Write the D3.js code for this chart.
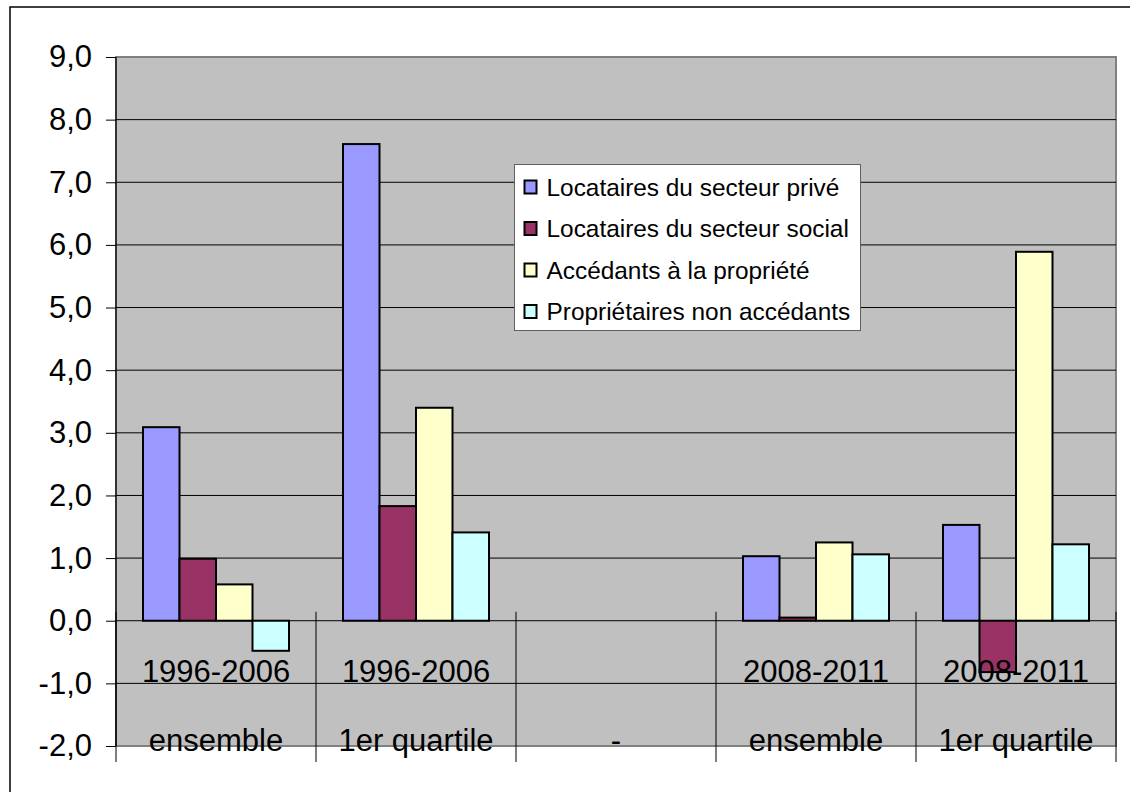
<!DOCTYPE html>
<html>
<head>
<meta charset="utf-8">
<script src="https://cdn.jsdelivr.net/npm/d3@7"></script>
<style>
  body { margin: 0; background: #fff; }
  svg { display: block; font-family: "Liberation Sans", Arial, sans-serif; }
</style>
</head>
<body>
<div id="chart"></div>
<script>
// Data
const categoriesTop = ["1996-2006", "1996-2006", "", "2008-2011", "2008-2011"];
const categoriesBottom = ["ensemble", "1er quartile", "-", "ensemble", "1er quartile"];
const seriesNames = ["Locataires du secteur privé", "Locataires du secteur social", "Accédants à la propriété", "Propriétaires non accédants"];
const seriesColors = ["#9999FF", "#993366", "#FFFFCC", "#CCFFFF"];
const privateRent = [3.09, 7.61, null, 1.03, 1.53];
const socialRent = [0.99, 1.83, null, 0.05, -0.82];
const buyers = [0.58, 3.40, null, 1.25, 5.89];
const owners = [-0.48, 1.41, null, 1.06, 1.22];
const yTicks = [-2, -1, 0, 1, 2, 3, 4, 5, 6, 7, 8, 9];

const seriesValues = [privateRent, socialRent, buyers, owners];

const W = 1130, H = 792;
const plot = { left: 116, top: 57, right: 1116, bottom: 746 };

const svg = d3.select("#chart").append("svg")
    .attr("width", W)
    .attr("height", H);

// chart frame
svg.append("rect")
    .attr("x", 10).attr("y", 7)
    .attr("width", W + 20).attr("height", H + 20)
    .attr("fill", "#fff").attr("stroke", "#000").attr("stroke-width", 1.5);

const x = d3.scaleBand()
    .domain(d3.range(categoriesTop.length))
    .range([plot.left, plot.right])
    .padding(0);

const xs = d3.scaleBand()
    .domain(d3.range(seriesNames.length))
    .range([0, x.bandwidth()])
    .paddingInner(0)
    .paddingOuter(0.74);

const y = d3.scaleLinear()
    .domain([-2, 9])
    .range([plot.bottom, plot.top]);

// plot area
svg.append("rect")
    .attr("x", plot.left).attr("y", plot.top)
    .attr("width", plot.right - plot.left).attr("height", plot.bottom - plot.top)
    .attr("fill", "#C0C0C0").attr("stroke", "#808080").attr("stroke-width", 2);

// gridlines + y axis
const yAxis = svg.append("g")
    .attr("transform", `translate(${plot.left},0)`)
    .call(d3.axisLeft(y).tickValues(yTicks).tickSize(10)
        .tickFormat(d => d3.format(".1f")(d).replace(".", ",").replace("−", "-")));
yAxis.select(".domain").remove();
yAxis.selectAll("line").attr("stroke", "#000");
yAxis.selectAll("text")
    .attr("x", -24)
    .attr("fill", "#000")
    .style("font-size", "31px")
    .style("font-family", "'Liberation Sans', Arial, sans-serif");

svg.append("g").selectAll("line")
    .data(yTicks.filter(d => d > -2 && d < 9))
    .enter().append("line")
    .attr("x1", plot.left).attr("x2", plot.right)
    .attr("y1", d => y(d)).attr("y2", d => y(d))
    .attr("stroke", "#000").attr("stroke-width", 1);

svg.append("line")
    .attr("x1", plot.left).attr("x2", plot.left)
    .attr("y1", plot.top).attr("y2", plot.bottom)
    .attr("stroke", "#000").attr("stroke-width", 1.2);

// bars
const bars = svg.append("g");
seriesValues.forEach((vals, s) => {
    bars.selectAll(null)
        .data(vals.map((v, i) => ({ v, i })).filter(d => d.v !== null))
        .enter().append("rect")
        .attr("x", d => x(d.i) + xs(s))
        .attr("y", d => y(Math.max(0, d.v)))
        .attr("width", xs.bandwidth())
        .attr("height", d => Math.abs(y(d.v) - y(0)))
        .attr("fill", seriesColors[s])
        .attr("stroke", "#000")
        .attr("stroke-width", 2);
});

// category axis ticks
const bounds = d3.range(categoriesTop.length + 1).map(i => plot.left + i * x.step());
svg.append("g").selectAll("line")
    .data(bounds)
    .enter().append("line")
    .attr("x1", d => d).attr("x2", d => d)
    .attr("y1", y(0) - 9).attr("y2", 762)
    .attr("stroke", "#000").attr("stroke-width", 1);

// category labels
const labels = svg.append("g")
    .attr("font-size", 31)
    .attr("text-anchor", "middle")
    .attr("fill", "#000");
labels.selectAll(".top")
    .data(categoriesTop)
    .enter().append("text")
    .attr("class", "top")
    .attr("x", (d, i) => x(i) + x.bandwidth() / 2)
    .attr("y", 682)
    .text(d => d);
labels.selectAll(".bottom")
    .data(categoriesBottom)
    .enter().append("text")
    .attr("class", "bottom")
    .attr("x", (d, i) => x(i) + x.bandwidth() / 2)
    .attr("y", 751)
    .text(d => d);

// legend
const legend = svg.append("g").attr("transform", "translate(514.5,164.5)");
legend.append("rect")
    .attr("width", 346).attr("height", 166)
    .attr("fill", "#fff").attr("stroke", "#606060").attr("stroke-width", 1);
seriesNames.forEach((name, s) => {
    const cy = 22 + s * 41.5;
    legend.append("rect")
        .attr("x", 10).attr("y", cy - 6)
        .attr("width", 12).attr("height", 13)
        .attr("fill", seriesColors[s])
        .attr("stroke", "#000").attr("stroke-width", 2);
    legend.append("text")
        .attr("x", 32).attr("y", cy + 9)
        .attr("font-size", 24.4)
        .attr("fill", "#000")
        .text(name);
});
</script>
</body>
</html>
